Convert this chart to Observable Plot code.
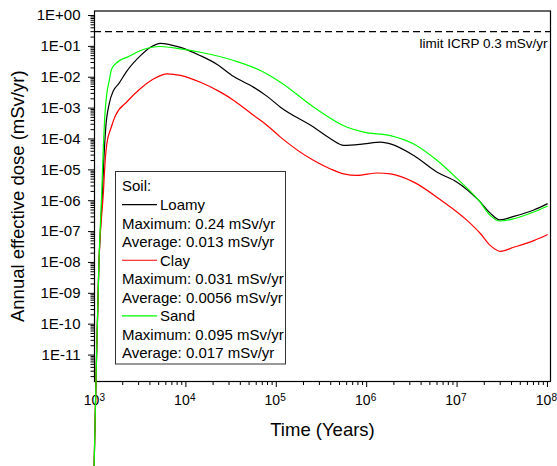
<!DOCTYPE html>
<html><head><meta charset="utf-8">
<script src="https://cdn.jsdelivr.net/npm/d3@7"></script>
<script src="https://cdn.jsdelivr.net/npm/@observablehq/plot@0.6"></script>
<style>
html,body{margin:0;padding:0;background:#fff;}
#chart{width:557px;height:466px;overflow:hidden;}
</style></head><body><div id="chart"></div>
<script>
const soils = ["Loamy", "Clay", "Sand"];
const soilColors = ["#000000", "#ff0000", "#00ff00"];
const maxima = ["0.24", "0.031", "0.095"];
const averages = ["0.013", "0.0056", "0.017"];
const limitValue = 0.3;
const limitLabel = "limit ICRP 0.3 mSv/yr";
const xTitle = "Time (Years)";
const yTitle = "Annual effective dose (mSv/yr)";
const legendTitle = "Soil:";
const unit = "mSv/yr";

const loamyT = [927,1013,1088,1195,1236,1300,1418,1581,1811,2203,3148,4055,5236,6761,8710,14490,22180,33880,56370,79250,111200,260000,398000,558000,929000,1420000,1830000,3320000,6030000,10000000,17400000,23400000,29600000,42400000,70500000,99300000];
const loamyD = [1e-17,1.5e-12,6.9e-9,2.1e-6,2.0e-5,2.4e-4,1.38e-3,3.7e-3,6.2e-3,0.0153,0.050,0.093,0.126,0.112,0.093,0.050,0.026,0.0105,4.7e-3,2.4e-3,1.07e-3,2.4e-4,1.02e-4,6.2e-5,6.9e-5,7.9e-5,6.9e-5,2.9e-5,8.3e-6,4.0e-6,1.02e-6,3.9e-7,2.4e-7,3.1e-7,5.0e-7,7.9e-7];

const clayT = [927,1013,1088,1226,1280,1334,1493,1663,2244,3148,4416,6209,8710,14490,24150,33880,56370,79250,111200,260000,398000,558000,785000,1310000,1830000,3320000,6550000,12900000,18200000,23400000,30200000,42400000,70500000,99300000];
const clayD = [1e-17,1.5e-12,6.9e-9,2.1e-6,2.0e-5,6.9e-5,2.4e-4,5.75e-4,1.64e-3,4.3e-3,8.9e-3,0.0129,0.0115,6.9e-3,3.3e-3,1.78e-3,5.75e-4,2.75e-4,1.15e-4,2.0e-5,1.07e-5,7.4e-6,6.6e-6,7.9e-6,7.4e-6,4.0e-6,1.07e-6,2.3e-7,8.5e-8,3.5e-8,2.3e-8,3.1e-8,5.1e-8,7.9e-8];

const sandT = [927,1013,1088,1174,1226,1280,1334,1418,1503,1663,1890,2244,3148,5236,8710,14490,33880,66830,111200,260000,608000,929000,1830000,3320000,6030000,10000000,17400000,23400000,29600000,42400000,70500000,99300000];
const sandD = [1e-17,1.5e-12,6.9e-9,2.1e-6,6.9e-5,8.3e-4,2.9e-3,7.8e-3,0.0178,0.0272,0.0362,0.0447,0.0735,0.099,0.0834,0.0646,0.0348,0.0165,6.9e-3,1.07e-3,2.4e-4,1.66e-4,1.29e-4,6.9e-5,2.0e-5,5.2e-6,1.02e-6,3.3e-7,2.2e-7,2.6e-7,4.3e-7,6.6e-7];

const xTicks = [1e3, 1e4, 1e5, 1e6, 1e7, 1e8];
const yTicks = [1, 1e-1, 1e-2, 1e-3, 1e-4, 1e-5, 1e-6, 1e-7, 1e-8, 1e-9, 1e-10, 1e-11];

const xDomain = [975, 1.08e8];
const yDomain = [1.39e-12, 1.4];

const xMinor = d3.range(3, 8).flatMap(e => d3.range(2, 10).map(m => m * 10 ** e));
const yMinor = d3.range(-12, 0).flatMap(e => d3.range(2, 10).map(m => m * 10 ** e)).filter(v => v >= yDomain[0] && v <= yDomain[1]);

const rows = (name, T, D) => T.map((t, i) => ({soil: name, t, d: D[i]}));
const data = [
  ...rows("Loamy", loamyT, loamyD),
  ...rows("Clay", clayT, clayD),
  ...rows("Sand", sandT, sandD)
];

const fmtY = d => {
  const e = Math.round(Math.log10(d));
  return "1E" + (e < 0 ? "-" : "+") + String(Math.abs(e)).padStart(2, "0");
};

const font = "Arial, 'Liberation Sans', sans-serif";

const plot = Plot.plot({
  width: 557, height: 466,
  marginLeft: 94, marginRight: 7, marginTop: 10.5, marginBottom: 85,
  style: {fontFamily: font, background: "white", color: "black"},
  x: {type: "log", domain: xDomain, axis: null, label: null},
  y: {type: "log", domain: yDomain, axis: null, label: null},
  color: {domain: soils, range: soilColors},
  marks: [
    Plot.axisY(yMinor, {tickSize: 3.5, tickFormat: () => "", label: null}),
    Plot.axisY(yTicks, {tickSize: 6, tickPadding: 8, tickFormat: fmtY, fontSize: 15, label: null}),
    Plot.axisX(xMinor, {tickSize: 4, tickFormat: () => "", label: null}),
    Plot.axisX(xTicks, {tickSize: 6, tickFormat: () => "", label: null}),
    Plot.text(xTicks, {x: d => d, frameAnchor: "bottom", text: () => "10", textAnchor: "middle", dx: -4, dy: 23, fontSize: 14}),
    Plot.text(xTicks, {x: d => d, frameAnchor: "bottom", text: d => String(Math.round(Math.log10(d))), textAnchor: "start", dx: 4, dy: 19, fontSize: 10}),
    Plot.text([xTitle], {frameAnchor: "bottom", text: d => d, textAnchor: "middle", dy: 54, fontSize: 18.5}),
    Plot.text([yTitle], {frameAnchor: "left", text: d => d, textAnchor: "middle", dx: -76, rotate: -90, fontSize: 18.5}),
    Plot.ruleY([limitValue], {stroke: "black", strokeDasharray: "7,4", strokeWidth: 1.1}),
    Plot.text([limitValue], {y: d => d, text: () => limitLabel, frameAnchor: "right", textAnchor: "end", dx: -3, dy: 11.7, fontSize: 13.5}),
    Plot.frame({stroke: "black", strokeWidth: 1.2}),
    Plot.line(data, {x: "t", y: "d", z: "soil", stroke: "soil", curve: "monotone-x", strokeWidth: 1.2})
  ]
});

document.getElementById("chart").appendChild(plot);

// Legend box
const svg = d3.select(plot);
const lg = svg.append("g").attr("font-family", font).attr("font-size", 15)
  .attr("fill", "black").attr("text-anchor", "start");
lg.append("rect").attr("x", 115.5).attr("y", 171.5).attr("width", 170).attr("height", 192.5)
  .attr("fill", "white").attr("stroke", "#333").attr("stroke-width", 1);
const row0 = 186, step = 18.56, tx = 122;
const addText = (i, x, s) => lg.append("text").attr("x", x).attr("y", row0 + i * step)
  .attr("dy", "0.36em").attr("text-anchor", "start").text(s);
addText(0, tx, legendTitle);
soils.forEach((s, k) => {
  const r = 1 + 3 * k;
  lg.append("line").attr("x1", tx).attr("x2", 157).attr("y1", row0 + r * step).attr("y2", row0 + r * step)
    .attr("stroke", soilColors[k]).attr("stroke-width", 1.2);
  addText(r, 160, s);
  addText(r + 1, tx, "Maximum: " + maxima[k] + " " + unit);
  addText(r + 2, tx, "Average: " + averages[k] + " " + unit);
});
</script>
</body></html>
